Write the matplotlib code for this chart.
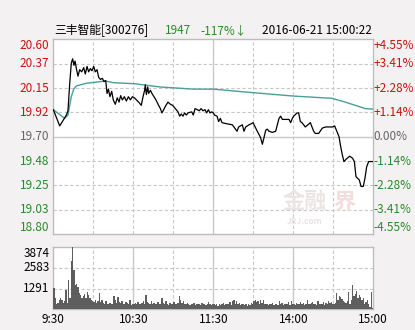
import numpy as np
import matplotlib
matplotlib.use("Agg")
import matplotlib.pyplot as plt
from matplotlib.transforms import blended_transform_factory

plt.rcParams['font.family'] = ['Noto Sans CJK SC', 'DejaVu Sans']

# ---- data ----
pre_close = 19.70
price_min = [0, 4.8, 7.3, 9.8, 11, 12.3, 13.5, 14.5, 15.5, 16.3, 17.3, 18.5, 19.8, 21.3, 22.8, 24,
             25.3, 26.5, 27.8, 29, 30.3, 31.5, 32.8, 34, 35.3, 36.8, 38, 39.3, 40.3, 41.3, 42.5,
             43.8, 45, 46.5, 48, 49.3, 50.5, 51.8, 53.3, 54.8, 56.3, 57.8, 59.3, 60.8, 64, 66,
             67.3, 68.5, 69, 69.8, 70.8, 71.5, 72.8, 74, 77, 79, 80.3, 81.5, 82.8, 84, 86, 87.8,
             89.5, 90.8, 93.5, 94.8, 96, 97.3, 98.5, 99.8, 101, 103.8, 105, 106.3, 108, 109.5,
             110.8, 112.3, 113.8, 115, 116.3, 117.5, 118.8, 120, 121, 122.8, 124, 125.3, 126.5,
             130, 134.3, 137.8, 139, 141.8, 143, 144.3, 146.8, 148.5, 149.8, 153, 154.3, 155.5,
             156.8, 158, 159.3, 160.5, 161.8, 164.3, 166.8, 168, 169.3, 170.5, 171.8, 174.3,
             176.8, 178, 179.3, 180.3, 182.8, 184, 185.3, 186.5, 189, 192.8, 194, 195.3, 196.5,
             199, 201.8, 204.3, 209.3, 211, 214.3, 215.5, 216.8, 218, 219.5, 222.3, 224.5,
             225.8, 227, 229.5, 230.8, 232.5, 233.8, 235, 236.5, 237.8, 240]
price = [19.95, 19.80, 19.85, 19.90, 19.94, 20.19, 20.38, 20.42, 20.36, 20.40, 20.33, 20.26,
         20.32, 20.30, 20.34, 20.28, 20.35, 20.30, 20.33, 20.31, 20.35, 20.30, 20.32, 20.25,
         20.23, 20.24, 20.21, 20.22, 20.10, 20.14, 20.07, 20.12, 20.04, 20.00, 20.06, 20.02,
         20.08, 20.04, 20.07, 20.03, 20.07, 20.04, 20.07, 20.06, 20.02, 19.99, 20.07, 20.13,
         20.18, 20.09, 20.16, 20.10, 20.13, 20.10, 20.04, 19.99, 19.96, 19.92, 19.95, 19.98,
         20.02, 20.00, 19.99, 19.97, 19.93, 19.89, 19.91, 19.89, 19.92, 19.90, 19.92, 19.93,
         19.90, 19.96, 19.95, 19.94, 19.96, 19.94, 19.95, 19.92, 19.95, 19.92, 19.93, 19.92,
         19.90, 19.89, 19.84, 19.87, 19.83, 19.82, 19.81, 19.75, 19.79, 19.81, 19.75, 19.79,
         19.81, 19.82, 19.83, 19.75, 19.72, 19.69, 19.63, 19.69, 19.76, 19.77, 19.75, 19.74,
         19.75, 19.81, 19.87, 19.89, 19.86, 19.86, 19.86, 19.83, 19.87, 19.89, 19.92, 19.92,
         19.84, 19.83, 19.79, 19.83, 19.79, 19.75, 19.73, 19.73, 19.78, 19.79, 19.79, 19.80,
         19.70, 19.61, 19.53, 19.47, 19.49, 19.52, 19.50, 19.47, 19.33, 19.30, 19.24, 19.24,
         19.32, 19.42, 19.47, 19.47, 19.47]

avg_min = [0, 8.5, 11, 13.5, 15.3, 17.3, 25, 32.5, 39, 45, 52.5, 61, 80, 105, 120, 150, 180,
           209, 219, 229, 234, 240]
avg_price = [19.95, 19.87, 19.90, 20.07, 20.14, 20.17, 20.195, 20.205, 20.215, 20.20, 20.195,
             20.19, 20.16, 20.14, 20.14, 20.107, 20.076, 20.055, 20.02, 19.98, 19.96, 19.955]

volume = [1350, 700, 350, 400, 600, 700, 550, 400, 500, 1200,
          400, 1850, 700, 3000, 3874, 2450, 1500, 1600, 1400, 1000,
          900, 700, 800, 950, 700, 1100, 900, 700, 600, 500,
          450, 550, 400, 500, 1000, 450, 550, 400, 350, 500,
          300, 350, 400, 300, 350, 850, 550, 400, 750, 450,
          400, 500, 350, 300, 450, 400, 300, 600, 250, 350,
          300, 400, 350, 450, 300, 350, 400, 500, 350, 900,
          450, 400, 350, 500, 300, 400, 350, 300, 450, 350,
          300, 700, 400, 350, 500, 300, 250, 400, 350, 300,
          450, 300, 350, 400, 800, 550, 400, 500, 350, 300,
          400, 300, 250, 350, 300, 400, 250, 300, 350, 300,
          250, 400, 300, 350, 250, 300, 450, 300, 250, 350,
          350, 250, 300, 200, 350, 250, 300, 400, 250, 300,
          350, 300, 450, 250, 500, 550, 350, 500, 300, 400,
          250, 300, 350, 250, 300, 200, 350, 250, 400, 300,
          500, 550, 450, 500, 350, 550, 400, 600, 350, 300,
          300, 250, 350, 300, 400, 250, 300, 350, 250, 500,
          300, 400, 250, 300, 350, 300, 450, 250, 500, 300,
          350, 250, 400, 300, 350, 450, 300, 400, 250, 300,
          550, 350, 300, 400, 450, 300, 350, 250, 500, 350,
          300, 350, 450, 250, 400, 350, 500, 400, 450, 300,
          350, 400, 1000, 600, 850, 750, 650, 500, 450, 400,
          500, 1100, 300, 600, 1500, 850, 950, 1150, 700, 900,
          750, 600, 700, 300, 450, 600, 300, 150, 1050, 100]

price_ticks = [20.60, 20.375, 20.15, 19.925, 19.70, 19.475, 19.25, 19.025, 18.80]
price_labels = ['20.60', '20.37', '20.15', '19.92', '19.70', '19.48', '19.25', '19.03', '18.80']
pct_labels = ['+4.55%', '+3.41%', '+2.28%', '+1.14%', '0.00%', '-1.14%', '-2.28%', '-3.41%', '-4.55%']
vol_ticks = [3874, 2583, 1291]
time_ticks = [0, 60, 120, 180, 240]
time_labels = ['9:30', '10:30', '11:30', '14:00', '15:00']

RED = '#cc1111'
GREEN = '#2a8a2a'
GRAY = '#666666'
GRID = '#c8c8c8'
BG = '#f3f1f1'

W, H = 415, 330
fig = plt.figure(figsize=(W / 100, H / 100), dpi=100, facecolor=BG)


def px_box(x0, y0, x1, y1):
    return [x0 / W, 1 - y1 / H, (x1 - x0) / W, (y1 - y0) / H]


ax = fig.add_axes(px_box(53.3, 39.4, 373.3, 234))
axv = fig.add_axes(px_box(53.3, 247, 373.3, 309.3))

for a in (ax, axv):
    a.set_facecolor('white')
    for s in a.spines.values():
        s.set_color('#bdbdbd')
        s.set_linewidth(1)
    a.set_xlim(0, 240)
    a.tick_params(length=0)
    a.set_yticks([])

# main panel grid
ax.set_ylim(18.80, 20.60)
for v in price_ticks[1:-1]:
    if v == pre_close:
        ax.axhline(v, color=GRID, lw=1, zorder=0)
    else:
        ax.axhline(v, color=GRID, lw=0.8, ls=(0, (3, 2)), zorder=0)
for t in range(30, 240, 30):
    if t == 120:
        ax.axvline(t, color=GRID, lw=1, zorder=0)
    else:
        ax.axvline(t, color=GRID, lw=0.8, ls=(0, (3, 2)), zorder=0)
ax.set_xticks([])

# watermark
fig.text(283 / W, 1 - 202 / H, '金融', fontsize=16, color='#ebe4e4', va='center', ha='left',
         fontweight='bold', zorder=1)
fig.text(333 / W, 1 - 202 / H, '界', fontsize=16, color='#f3dede', va='center', ha='left',
         fontweight='bold', zorder=1)
fig.text(287 / W, 1 - 221 / H, 'JRJ.com', fontsize=6, color='#ebe4e4', va='center',
         ha='left', style='italic', fontweight='bold', zorder=1)

ax.plot(avg_min, avg_price, color='#4a9e98', lw=1.0, zorder=3)
ax.plot(price_min, price, color='black', lw=0.9, zorder=4)

tr = blended_transform_factory(ax.transAxes, ax.transData)
for i, (v, lab, pl) in enumerate(zip(price_ticks, price_labels, pct_labels)):
    if v > pre_close:
        c = RED
    elif v < pre_close:
        c = GREEN
    else:
        c = GRAY
    va = 'center'
    if i == 0:
        va = 'top'
    elif i == len(price_ticks) - 1:
        va = 'bottom'
    ax.text(-0.012, v, lab, transform=tr, ha='right', va=va, color=c, fontsize=8.5)
    ax.text(1.0, v, pl, transform=tr, ha='left', va=va, color=c, fontsize=8.5)

# volume panel
x_vol = np.arange(len(volume)) + 0.5
axv.bar(x_vol, volume, width=0.85, color='#5e5e5e', zorder=3)
axv.set_ylim(0, 3874)
for v in vol_ticks[1:]:
    axv.axhline(v, color=GRID, lw=0.8, ls=(0, (3, 2)), zorder=0)
for t in range(30, 240, 30):
    if t % 60 == 0:
        axv.axvline(t, color=GRID, lw=1, zorder=0)
    else:
        axv.axvline(t, color=GRID, lw=0.8, ls=(0, (3, 2)), zorder=0)
trv = blended_transform_factory(axv.transAxes, axv.transData)
for v in vol_ticks:
    axv.text(-0.012, v, str(v), transform=trv, ha='right',
             va='top' if v == vol_ticks[0] else 'center', color='black', fontsize=8.5)
axv.set_xticks(time_ticks)
axv.set_xticklabels(time_labels, fontsize=8.5)
axv.tick_params(axis='x', pad=3)

# header
yt = 1 - 31 / H
fig.text(54 / W, yt, '三丰智能[300276]', fontsize=8.5, color='black', va='center', ha='left')
fig.text(165 / W, yt, '1947', fontsize=8.5, color=GREEN, va='center', ha='left')
fig.text(200 / W, yt, '-117%↓', fontsize=8.5, color=GREEN, va='center', ha='left')
fig.text(262 / W, yt, '2016-06-21 15:00:22', fontsize=8.5, color='black', va='center', ha='left')

fig.savefig('out.png', dpi=100, facecolor=BG)
